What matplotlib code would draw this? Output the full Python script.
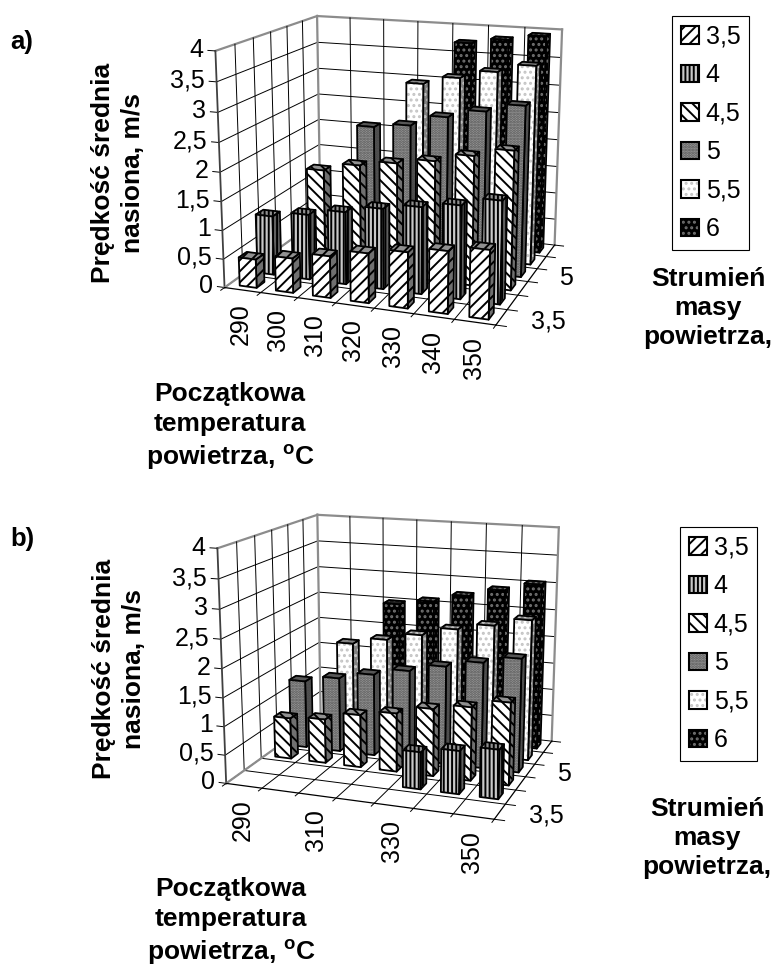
import numpy as np
import matplotlib
matplotlib.use("Agg")
import matplotlib.pyplot as plt
from matplotlib.patches import Patch
from matplotlib.legend_handler import HandlerTuple
from mpl_toolkits.mplot3d import proj3d
from mpl_toolkits.mplot3d.art3d import Poly3DCollection

plt.rcParams["font.family"] = ["Liberation Sans", "DejaVu Sans"]
plt.rcParams["hatch.linewidth"] = 1.4
plt.rcParams["mathtext.fontset"] = "custom"
plt.rcParams["mathtext.bf"] = "Liberation Sans:bold"
plt.rcParams["mathtext.rm"] = "Liberation Sans:bold"

n = np.nan
temps = [290, 300, 310, 320, 330, 340, 350]
series = ["3,5", "4", "4,5", "5", "5,5", "6"]
z_labels = ["0", "0,5", "1", "1,5", "2", "2,5", "3", "3,5", "4"]
z_values = [0, 0.5, 1, 1.5, 2, 2.5, 3, 3.5, 4]

a_35 = [0.5, 0.6, 0.72, 0.85, 0.95, 1.05, 1.15]
a_40 = [1.05, 1.15, 1.27, 1.4, 1.5, 1.6, 1.75]
a_45 = [n, 1.75, 1.9, 2.0, 2.1, 2.25, 2.4]
a_50 = [n, n, 2.42, 2.5, 2.7, 2.85, 3.0]
a_55 = [n, n, n, 3.1, 3.25, 3.4, 3.55]
a_60 = [n, n, n, n, 3.75, 3.85, 3.95]

b_35 = [n, n, n, n, n, n, n]
b_40 = [n, n, n, n, 0.65, 0.75, 0.85]
b_45 = [0.75, 0.8, 0.95, 1.05, 1.2, 1.3, 1.45]
b_50 = [1.25, 1.37, 1.5, 1.63, 1.77, 1.9, 2.03]
b_55 = [n, 1.85, 1.98, 2.12, 2.28, 2.4, 2.55]
b_60 = [n, n, 2.5, 2.6, 2.75, 2.9, 3.05]

# front face, side face, top face, hatch, hatch colour
styles = [
    ("white", "#707070", "#909090", "///", "black"),
    ("#c8c8c8", "#606060", "#909090", "||||", "black"),
    ("white", "#707070", "#909090", "\\\\\\", "black"),
    ("#9a9a9a", "#484848", "#585858", "......", "#555555"),
    ("white", "#808080", "#808080", "...", "#c4c4c4"),
    ("black", "black", "#202020", "...", "#707070"),
]
W, H = 775, 967
GREY = "#8c8c8c"
CLEAR = (0, 0, 0, 0)


def face(ax, verts, fc, hatch, hc, z):
    ax.add_collection3d(Poly3DCollection([verts], facecolor=fc, edgecolor=hc, hatch=hatch, linewidth=0, zorder=z), autolim=False)
    ax.add_collection3d(Poly3DCollection([verts], facecolor=CLEAR, edgecolor="black", linewidth=1.3, zorder=z + 0.5), autolim=False)


def put_text(ax, x, y, z, txt, **kw):
    # 3D text ignores rotation, so project the anchor and place it as 2D text
    tx, ty, _ = proj3d.proj_transform(x, y, z, ax.get_proj())
    ax.text2D(tx, ty, txt, transform=ax.transData, fontsize=18, zorder=5000, **kw)


def draw_panel(rows, cam, fit, xlabels):
    elev, azim, f, bx, by, bz = cam
    s, ox, oy = fit
    ax = fig.add_axes([(ox - 0.095 * s) / W, 1 - (oy + 0.095 * s) / H, 0.185 * s / W, 0.185 * s / H], projection="3d")
    ax.computed_zorder = False
    ax.set_axis_off()
    ax.patch.set_visible(False)
    nx, ny = len(temps), len(series)
    ax.view_init(elev=elev, azim=azim)
    ax.set_proj_type("persp", focal_length=f)
    ax.set_box_aspect((bx, by, bz))
    ax.set_xlim(0, nx)
    ax.set_ylim(0, ny)
    ax.set_zlim(0, 4)

    # walls and floor
    for z in z_values:
        c, lw = (GREY, 1.6) if z == 4 else ("black", 0.7)
        ax.plot([0, 0], [0, ny], [z, z], color=c, lw=lw, zorder=1)
        ax.plot([0, nx], [ny, ny], [z, z], color=c, lw=lw, zorder=1)
        ax.plot([-0.2, 0], [0, 0], [z, z], color="black", lw=0.7, zorder=1)
    for y in range(1, ny):
        ax.plot([0, 0], [y, y], [0, 4], color="black", lw=0.7, zorder=1)
        ax.plot([0, nx + 0.25], [y, y], [0, 0], color="black", lw=0.7, zorder=1)
    for x in range(1, nx):
        ax.plot([x, x], [ny, ny], [0, 4], color="black", lw=0.7, zorder=1)
        ax.plot([x, x], [-0.2, ny], [0, 0], color="black", lw=0.7, zorder=1)
    ax.plot([0, 0], [0, 0], [0, 4], color="#404040", lw=1.3, zorder=2)
    ax.plot([0, 0], [ny, ny], [0, 4], color=GREY, lw=1.6, zorder=2)
    ax.plot([nx, nx], [ny, ny], [0, 4], color=GREY, lw=1.6, zorder=2)
    ax.plot([0, 0], [0, ny], [0, 0], color=GREY, lw=1.6, zorder=2)
    ax.plot([0, nx], [0, 0], [0, 0], color="black", lw=0.9, zorder=2)
    ax.plot([nx, nx], [0, ny], [0, 0], color="black", lw=0.9, zorder=2)
    ax.plot([0, 0], [-0.2, 0], [0, 0], color="black", lw=0.7, zorder=2)
    ax.plot([nx, nx], [-0.2, 0], [0, 0], color="black", lw=0.7, zorder=2)
    ax.plot([nx, nx + 0.25], [0, 0], [0, 0], color="black", lw=0.7, zorder=2)
    ax.plot([nx, nx + 0.25], [ny, ny], [0, 0], color="black", lw=0.7, zorder=2)

    # bars, painted from the back row to the front
    bw, bd = 0.235, 0.22
    z = 10
    for j in range(ny - 1, -1, -1):
        fc, sc, tc, hatch, hc = styles[j]
        for i in range(nx):
            v = rows[j][i]
            if np.isnan(v):
                continue
            x0, x1 = i + 0.5 - bw, i + 0.5 + bw
            y0, y1 = j + 0.5 - bd, j + 0.5 + bd
            face(ax, [(x1, y0, 0), (x1, y1, 0), (x1, y1, v), (x1, y0, v)], sc, hatch, hc, z)
            face(ax, [(x0, y0, v), (x1, y0, v), (x1, y1, v), (x0, y1, v)], tc, hatch, hc, z + 1)
            face(ax, [(x0, y0, 0), (x1, y0, 0), (x1, y0, v), (x0, y0, v)], fc, hatch, hc, z + 2)
            z += 3

    # tick labels
    for v, lab in zip(z_values, z_labels):
        put_text(ax, -0.32, 0, v, lab, ha="right", va="center")
    for i, lab in zip(range(nx), xlabels):
        if lab:
            put_text(ax, i + 0.52, -0.15, -0.2, lab, rotation=90, ha="center", va="top")
    put_text(ax, nx + 0.7, 0.5, 0, series[0], ha="left", va="center")
    put_text(ax, nx + 0.7, 3.5, 0, series[3], ha="left", va="center")
    return ax


def legend_at(x, y):
    handles = []
    for fc, sc, tc, hatch, hc in styles:
        handles.append((Patch(facecolor=fc, edgecolor=hc, hatch=hatch, linewidth=0),
                        Patch(facecolor="none", edgecolor="black", linewidth=1.5)))
    leg = fig.legend(handles, series, handler_map={tuple: HandlerTuple(ndivide=1, pad=0)},
                     loc="upper left", bbox_to_anchor=(x / W, 1 - y / H), borderaxespad=0, borderpad=0.35,
                     fontsize=18, handlelength=0.72, handleheight=0.72, handletextpad=0.28, labelspacing=0.58,
                     fancybox=False, framealpha=1, edgecolor="black")
    leg.get_frame().set_linewidth(0.8)
    return leg


def label(x, y, txt, ls=1.33, **kw):
    fig.text(x / W, 1 - y / H, txt, fontsize=19, fontweight="bold", ha="center", va="center", linespacing=ls, **kw)


fig = plt.figure(figsize=(W / 100, H / 100), dpi=100)

draw_panel([a_35, a_40, a_45, a_50, a_55, a_60], (14.862, -69.992, 0.544, 1.525, 1.305, 1.3), (2252.1, 397.6, 155.2),
           [str(t) for t in temps])
draw_panel([b_35, b_40, b_45, b_50, b_55, b_60], (14.491, -70.258, 0.547, 1.514, 1.307, 1.298), (2228.2, 397.0, 651.9),
           ["290", "", "310", "", "330", "", "350"])

legend_at(672, 16)
legend_at(680, 527)

temp_label = "Początkowa\ntemperatura\npowietrza, $\\mathbf{^{o}}$C"
flow_label = "Strumień\nmasy\npowietrza,"
ylabel = "Prędkość średnia\nnasiona, m/s"
for dy_t, dy_f, dy_y, xt, xf, xy in ((0, 0, 0, 230, 708, 118), (495, 530, 496, 231, 707, 119)):
    label(xt, 427 + dy_t, temp_label)
    label(xf, 308 + dy_f, flow_label, ls=1.25)
    label(xy, 173 + dy_y, ylabel, rotation=90)
fig.text(10 / W, 1 - 42 / H, "a)", fontsize=18.5, fontweight="bold", va="center")
fig.text(10 / W, 1 - 539 / H, "b)", fontsize=18.5, fontweight="bold", va="center")

fig.savefig("out.png", dpi=100)
